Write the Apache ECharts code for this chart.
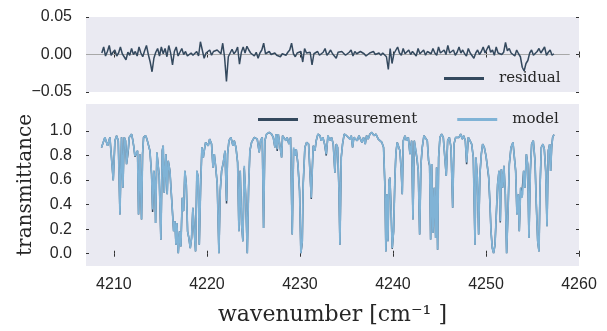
<!DOCTYPE html>
<html>
<head>
<meta charset="utf-8">
<script src="https://cdn.jsdelivr.net/npm/echarts@6/dist/echarts.min.js"></script>
<style>
html, body { margin: 0; padding: 0; background: #fff; }
#chart { width: 607px; height: 331px; }
</style>
</head>
<body>
<div id="chart"></div>
<script>
// spectrum sample positions (cm^-1)
const wavenumber = [
  4208.67,4209.03,4209.32,4209.57,4209.75,4209.93,4210.11,4210.29,4210.47,4210.65,
  4210.82,4210.97,4211.11,4211.25,4211.36,4211.54,4211.65,4211.83,4211.90,4212.01,
  4212.15,4212.26,4212.44,4212.54,4212.65,4212.80,4212.97,4213.08,4213.19,4213.41,
  4213.55,4213.69,4213.87,4214.05,4214.16,4214.30,4214.41,4214.48,4214.62,4214.77,
  4214.87,4215.05,4215.20,4215.30,4215.41,4215.59,4215.73,4215.84,4216.02,4216.20,
  4216.31,4216.42,4216.56,4216.67,4216.77,4216.92,4217.06,4217.20,4217.35,4217.49,
  4217.63,4217.78,4217.92,4218.06,4218.21,4218.35,4218.49,4218.64,4218.78,4218.92,
  4219.07,4219.18,4219.32,4219.46,4219.61,4219.71,4219.86,4220.00,4220.14,4220.29,
  4220.50,4220.65,4220.79,4220.93,4221.11,4221.29,4221.43,4221.58,4221.76,4221.94,
  4222.11,4222.22,4222.37,4222.58,4222.80,4222.94,4223.12,4223.30,4223.44,4223.58,
  4223.73,4223.87,4224.01,4224.16,4224.34,4224.48,4224.62,4224.80,4225.09,
  4225.16,4225.41,4225.62,4225.77,4225.95,4226.09,4226.23,4226.41,4226.70,4226.95,
  4227.13,4227.31,4227.42,4227.56,4227.67,4227.85,4228.03,4228.13,4228.31,4228.49,
  4228.63,4228.81,4228.99,4229.17,4229.32,4229.46,4229.60,4229.78,4229.96,4230.10,
  4230.25,4230.35,4230.53,4230.71,4230.93,4231.07,4231.22,4231.32,4231.43,4231.61,
  4231.75,4231.93,4232.15,4232.29,4232.47,4232.65,4232.83,4233.01,4233.22,4233.40,
  4233.58,4233.76,4233.90,4234.05,4234.19,4234.30,4234.44,4234.58,4234.76,4235.01,
  4235.19,4235.37,4235.52,4235.66,4235.80,4235.98,4236.16,4236.34,4236.52,4236.66,
  4236.84,4237.02,4237.16,4237.34,4237.52,4237.74,4237.95,4238.17,4238.42,4238.60,
  4238.81,4238.99,4239.14,4239.24,4239.35,4239.46,4239.57,4239.67,4239.78,4239.92,
  4240.07,4240.21,4240.32,4240.46,4240.61,4240.75,4240.89,4241.00,4241.11,4241.29,
  4241.47,4241.65,4241.83,4242.01,4242.15,4242.29,4242.44,4242.58,4242.72,4242.87,
  4243.01,4243.15,4243.33,4243.51,4243.69,4243.83,4243.94,4244.05,4244.16,4244.30,
  4244.44,4244.59,4244.69,4244.80,4244.91,4245.05,4245.23,4245.41,4245.59,4245.73,
  4245.88,4246.06,4246.24,4246.42,4246.56,4246.74,4246.92,4247.10,4247.28,4247.45,
  4247.60,4247.78,4247.92,4248.10,4248.28,4248.46,4248.64,4248.82,4248.92,4249.07,
  4249.21,4249.35,4249.50,4249.64,4249.82,4250.00,4250.14,4250.29,4250.43,4250.54,
  4250.68,4250.82,4250.97,4251.11,4251.25,4251.40,4251.54,4251.65,4251.79,4251.93,
  4252.08,4252.22,4252.37,4252.51,4252.69,4252.90,4253.05,4253.19,4253.33,4253.48,
  4253.58,4253.73,4253.83,4253.94,4254.05,4254.19,4254.34,4254.48,4254.62,4254.77,
  4254.91,4255.09,4255.27,4255.41,4255.56,4255.70,4255.81,4255.95,4256.13,4256.27,
  4256.42,4256.56,4256.70,4256.85,4256.95,4257.06,4257.17,4257.31
];

const model = [
  0.866,0.948,0.880,0.948,0.948,0.598,0.921,0.962,0.921,0.320,
  0.948,0.538,0.948,0.921,0.730,0.852,0.948,0.962,0.975,0.934,
  0.866,0.798,0.784,0.839,0.320,0.811,0.279,0.811,0.948,0.962,
  0.934,0.893,0.839,0.648,0.361,0.675,0.566,0.251,0.825,0.839,
  0.634,0.115,0.839,0.880,0.497,0.811,0.484,0.757,0.675,0.456,
  0.470,0.183,0.265,0.074,0.251,0.005,0.183,0.060,0.456,0.347,
  0.675,0.566,0.183,0.128,0.046,0.128,0.374,0.183,0.019,0.675,
  0.620,0.074,0.538,0.866,0.784,0.839,0.907,0.921,0.880,0.934,
  0.893,0.702,0.811,0.716,0.566,0.005,0.511,0.675,0.743,0.839,
  0.429,0.811,0.921,0.948,0.880,0.921,0.866,0.743,0.183,0.675,
  0.238,0.101,0.716,0.484,0.005,0.538,0.839,0.907,0.948,
  0.962,0.934,0.825,0.921,0.948,0.210,0.921,0.975,0.989,0.975,
  0.948,0.866,0.975,0.852,0.975,0.962,0.784,0.962,0.975,0.921,
  0.948,0.893,0.948,0.156,0.866,0.798,0.852,0.730,0.511,0.005,
  0.101,0.566,0.866,0.907,0.893,0.880,0.456,0.675,0.880,0.839,
  0.921,0.975,0.962,0.921,0.948,0.893,0.811,0.962,0.921,0.948,
  0.893,0.661,0.893,0.866,0.538,0.074,0.784,0.893,0.975,0.962,
  0.975,0.934,0.962,0.866,0.948,0.962,0.921,0.962,0.948,0.907,
  0.948,0.893,0.962,0.934,0.975,0.989,0.962,0.975,0.934,0.948,
  0.907,0.866,0.538,0.019,0.484,0.101,0.593,0.620,0.402,0.046,
  0.183,0.620,0.825,0.907,0.921,0.839,0.675,0.484,0.921,0.962,
  0.921,0.948,0.811,0.921,0.279,0.921,0.934,0.784,0.675,0.156,
  0.730,0.866,0.962,0.975,0.921,0.757,0.730,0.115,0.730,0.169,
  0.538,0.128,0.702,0.033,0.784,0.948,0.975,0.948,0.962,0.634,
  0.921,0.948,0.866,0.374,0.893,0.948,0.962,0.948,0.975,0.934,
  0.962,0.921,0.743,0.948,0.921,0.893,0.784,0.074,0.784,0.620,
  0.156,0.648,0.811,0.893,0.866,0.798,0.716,0.634,0.402,0.183,
  0.046,0.005,0.074,0.320,0.566,0.675,0.265,0.689,0.538,0.716,
  0.484,0.005,0.347,0.730,0.866,0.907,0.893,0.675,0.320,0.484,
  0.183,0.538,0.456,0.484,0.675,0.538,0.811,0.730,0.128,0.675,
  0.893,0.921,0.757,0.402,0.101,0.019,0.538,0.866,0.893,0.852,
  0.675,0.224,0.839,0.893,0.675,0.866,0.948,0.970
];

const measurement = [
  0.866,0.948,0.880,0.948,0.948,0.598,0.921,0.962,0.921,0.320,
  0.948,0.538,0.948,0.921,0.730,0.836,0.948,0.962,0.975,0.934,
  0.866,0.790,0.784,0.839,0.320,0.811,0.279,0.811,0.948,0.962,
  0.934,0.893,0.839,0.648,0.340,0.675,0.566,0.251,0.825,0.839,
  0.634,0.115,0.839,0.880,0.497,0.811,0.484,0.757,0.675,0.456,
  0.470,0.183,0.265,0.074,0.251,0.005,0.183,0.060,0.456,0.347,
  0.675,0.566,0.183,0.128,0.046,0.128,0.374,0.183,0.019,0.675,
  0.620,0.074,0.538,0.866,0.784,0.839,0.907,0.921,0.880,0.934,
  0.893,0.702,0.811,0.716,0.566,0.005,0.511,0.675,0.743,0.839,
  0.410,0.811,0.921,0.948,0.880,0.921,0.866,0.743,0.183,0.675,
  0.238,0.101,0.700,0.484,0.005,0.538,0.839,0.907,0.948,
  0.962,0.934,0.825,0.921,0.948,0.210,0.921,0.975,0.989,0.975,
  0.948,0.866,0.975,0.838,0.975,0.962,0.784,0.962,0.975,0.921,
  0.948,0.893,0.948,0.156,0.852,0.798,0.852,0.730,0.511,0.005,
  0.092,0.566,0.866,0.907,0.893,0.880,0.446,0.675,0.880,0.839,
  0.921,0.975,0.962,0.921,0.948,0.893,0.800,0.962,0.921,0.948,
  0.893,0.661,0.893,0.866,0.538,0.074,0.784,0.893,0.975,0.962,
  0.975,0.934,0.962,0.866,0.948,0.962,0.921,0.962,0.948,0.907,
  0.948,0.893,0.962,0.934,0.975,0.989,0.962,0.975,0.934,0.948,
  0.907,0.866,0.538,0.019,0.484,0.101,0.593,0.620,0.402,0.040,
  0.183,0.620,0.825,0.907,0.921,0.839,0.675,0.484,0.921,0.962,
  0.921,0.948,0.811,0.921,0.279,0.921,0.934,0.772,0.675,0.156,
  0.730,0.866,0.962,0.975,0.921,0.757,0.716,0.115,0.730,0.169,
  0.538,0.128,0.702,0.033,0.784,0.948,0.975,0.948,0.962,0.634,
  0.921,0.948,0.866,0.374,0.893,0.948,0.962,0.948,0.975,0.934,
  0.962,0.921,0.730,0.948,0.921,0.893,0.784,0.074,0.784,0.620,
  0.156,0.648,0.811,0.893,0.866,0.798,0.716,0.620,0.402,0.183,
  0.046,0.005,0.074,0.320,0.566,0.675,0.255,0.689,0.538,0.716,
  0.484,0.005,0.347,0.730,0.866,0.907,0.893,0.675,0.320,0.484,
  0.183,0.538,0.456,0.470,0.675,0.538,0.811,0.730,0.128,0.675,
  0.893,0.921,0.757,0.402,0.101,0.019,0.538,0.866,0.893,0.852,
  0.675,0.224,0.839,0.893,0.675,0.866,0.948,0.970
];

// residual = measurement - model, on a regular 0.2 cm^-1 grid
const residualStart = 4208.7;
const residualStep = 0.2;
const residual = [
  0.002,0.010,-0.002,0.004,0.012,-0.001,0.003,0.006,-0.002,0.002,
  0.010,0.001,-0.003,-0.007,0.003,-0.001,0.008,0.000,0.004,-0.002,
  0.010,0.002,-0.003,0.005,0.012,0.000,-0.010,-0.023,-0.005,0.003,
  0.008,-0.002,0.010,0.001,0.008,-0.003,0.012,0.002,-0.014,0.004,
  0.010,-0.002,0.003,0.008,0.000,0.004,-0.002,0.000,0.002,-0.001,
  0.001,0.004,-0.002,0.017,0.006,-0.005,0.002,0.004,0.006,-0.001,
  0.004,0.002,0.006,0.008,0.001,0.015,-0.004,-0.036,-0.003,0.002,
  0.007,0.001,0.004,0.010,-0.013,0.003,0.010,0.002,0.011,0.006,
  0.002,0.001,-0.002,0.003,-0.005,0.002,0.006,0.015,0.001,-0.001,
  0.004,0.000,0.001,0.002,-0.001,0.001,-0.003,0.001,0.002,-0.001,
  0.003,0.006,0.015,0.001,-0.003,0.002,0.001,0.004,-0.010,0.008,
  0.002,0.001,0.003,-0.014,0.001,0.003,0.004,-0.001,0.001,0.003,
  0.008,-0.001,0.002,0.006,0.001,-0.002,-0.005,0.003,0.001,0.004,
  0.002,-0.001,0.001,0.003,0.006,-0.002,0.004,0.001,0.002,0.004,
  0.002,0.001,-0.002,-0.003,0.002,0.001,0.004,0.000,0.001,0.002,
  -0.001,0.002,0.001,-0.003,-0.020,0.008,-0.012,0.001,0.003,0.010,
  0.002,-0.001,0.008,0.001,0.003,0.006,0.000,0.004,0.002,-0.002,
  0.008,0.001,0.003,0.006,-0.001,0.004,0.002,0.001,0.008,0.002,
  -0.001,0.010,0.002,0.003,0.006,0.000,0.012,0.002,0.004,0.006,
  -0.001,0.003,0.010,0.002,0.006,0.001,-0.002,0.008,0.002,0.001,
  -0.005,0.002,0.006,0.000,0.004,0.010,0.002,0.001,0.012,0.003,
  0.006,-0.001,0.010,0.002,0.004,0.000,0.003,0.016,0.005,0.008,
  0.002,0.001,-0.002,0.006,0.001,-0.003,-0.017,-0.022,-0.012,-0.008,
  0.002,0.006,-0.001,0.001,0.004,0.008,0.002,0.004,0.010,-0.001,
  0.003,0.006,-0.001,0.001
];

const zeroLineWn = [4207, 4259];
const xTicks = [4210, 4220, 4230, 4240, 4250, 4260];
const residualTicks = [-0.05, 0, 0.05];
const transTicks = [0, 0.2, 0.4, 0.6, 0.8, 1.0];

const darkLine = '#34495e';
const lightLine = '#80b3d6';
const tickFont = { fontFamily: 'Liberation Sans', fontSize: 16, color: '#262626' };
const serifFont = { fontFamily: 'DejaVu Serif', color: '#262626' };
const tickStyle = { show: true, inside: true, length: 3, lineStyle: { color: '#333', width: 1 } };

function xAxisFor(grid, position, labels) {
  return {
    type: 'value', gridIndex: grid, position: position, min: 4207, max: 4260,
    axisLine: { show: false }, splitLine: { show: false },
    axisTick: Object.assign({ customValues: xTicks }, tickStyle),
    axisLabel: Object.assign({ show: labels, customValues: xTicks, margin: 11, formatter: v => String(v) }, tickFont)
  };
}

function yAxisFor(grid, position, min, max, ticks, fmt, labels) {
  return {
    type: 'value', gridIndex: grid, position: position, min: min, max: max,
    axisLine: { show: false }, splitLine: { show: false },
    axisTick: Object.assign({ customValues: ticks }, tickStyle),
    axisLabel: Object.assign({ show: labels, customValues: ticks, formatter: fmt, margin: 14 }, tickFont)
  };
}

const fmtResidual = v => (v < 0 ? '\u2212' : '') + Math.abs(v).toFixed(2);
const fmtTrans = v => v.toFixed(1);

const chart = echarts.init(document.getElementById('chart'));

const xBottom = xAxisFor(1, 'bottom', true);
xBottom.name = 'wavenumber [cm\u207B\u00B9 ]';
xBottom.nameLocation = 'middle';
xBottom.nameGap = 38;
xBottom.nameTextStyle = Object.assign({ fontSize: 22 }, serifFont);

const yTrans = yAxisFor(1, 'left', -0.1, 1.22, transTicks, fmtTrans, true);
yTrans.name = 'transmittance';
yTrans.nameLocation = 'middle';
yTrans.nameGap = 50;
yTrans.nameTextStyle = Object.assign({ fontSize: 20 }, serifFont);

chart.setOption({
  animation: false,
  backgroundColor: '#ffffff',
  grid: [
    { left: 86, right: 28, top: 17, height: 75, show: true, backgroundColor: '#eaeaf2', borderWidth: 0 },
    { left: 86, right: 28, top: 104, height: 162, show: true, backgroundColor: '#eaeaf2', borderWidth: 0 }
  ],
  xAxis: [
    xAxisFor(0, 'bottom', false),
    xAxisFor(0, 'top', false),
    xBottom,
    xAxisFor(1, 'top', false)
  ],
  yAxis: [
    yAxisFor(0, 'left', -0.05, 0.05, residualTicks, fmtResidual, true),
    yAxisFor(0, 'right', -0.05, 0.05, residualTicks, fmtResidual, false),
    yTrans,
    yAxisFor(1, 'right', -0.1, 1.22, transTicks, fmtTrans, false)
  ],
  legend: [
    {
      data: ['residual'], left: 444, top: 71, padding: 0,
      icon: 'rect', itemWidth: 40, itemHeight: 3,
      textStyle: Object.assign({ fontSize: 15, padding: [0, 0, 0, 10] }, serifFont)
    },
    {
      data: ['measurement', 'model'], left: 258, top: 112, padding: 0, itemGap: 40,
      icon: 'rect', itemWidth: 40, itemHeight: 3,
      textStyle: Object.assign({ fontSize: 15, padding: [0, 0, 0, 10] }, serifFont)
    }
  ],
  series: [
    {
      name: 'zero', type: 'line', xAxisIndex: 0, yAxisIndex: 0, silent: true,
      symbol: 'none', lineStyle: { color: '#a8a8a8', width: 1 },
      data: zeroLineWn.map(x => [x, 0])
    },
    {
      name: 'residual', type: 'line', xAxisIndex: 0, yAxisIndex: 0,
      symbol: 'none', color: darkLine, lineStyle: { color: darkLine, width: 1.5 },
      data: residual.map((r, i) => [residualStart + i * residualStep, r])
    },
    {
      name: 'measurement', type: 'line', xAxisIndex: 2, yAxisIndex: 2,
      symbol: 'none', color: darkLine, lineStyle: { color: darkLine, width: 1.5 },
      data: wavenumber.map((w, i) => [w, measurement[i]])
    },
    {
      name: 'model', type: 'line', xAxisIndex: 2, yAxisIndex: 2,
      symbol: 'none', color: lightLine, lineStyle: { color: lightLine, width: 1.7 },
      data: wavenumber.map((w, i) => [w, model[i]])
    }
  ]
});
</script>
</body>
</html>
